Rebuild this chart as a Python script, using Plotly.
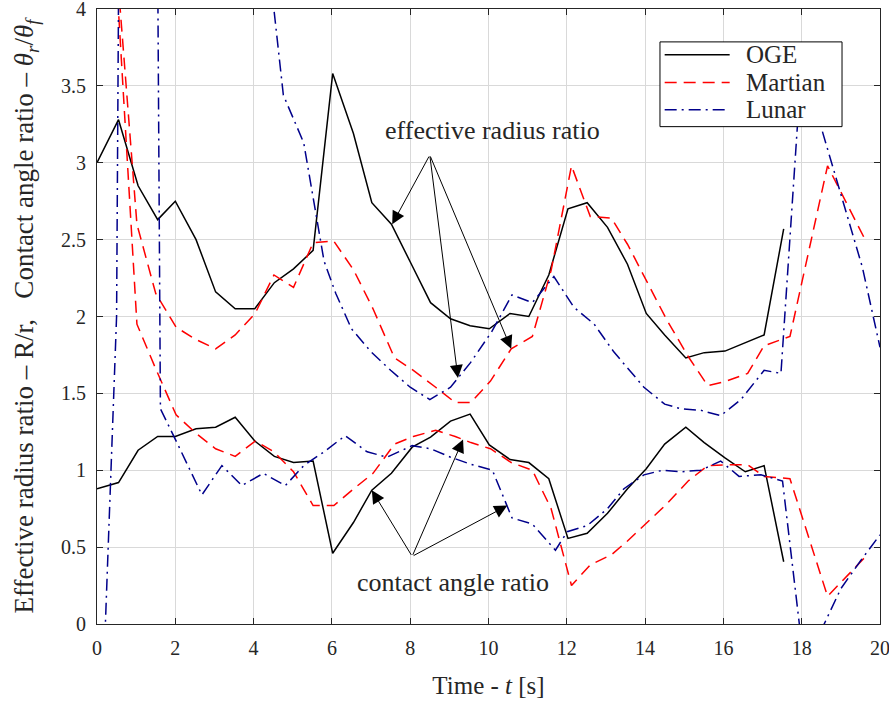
import plotly.graph_objects as go

# ---------------- data ----------------
oge_t = [0, 0.55, 1.05, 1.55, 2.0, 2.53, 3.03, 3.53, 4.03, 4.53, 5.02, 5.52, 6.02, 6.55, 7.02, 7.52,
         8.05, 8.52, 9.03, 9.53, 10.02, 10.55, 11.03, 11.54, 12.03, 12.52, 13.04, 13.55, 14.03, 14.5,
         15.04, 15.51, 16.04, 16.56, 17.04, 17.54]
oge_radius = [3.0, 3.28, 2.85, 2.63, 2.75, 2.5, 2.16, 2.05, 2.05, 2.22, 2.31, 2.43, 3.58, 3.19, 2.74, 2.6,
              2.33, 2.09, 1.985, 1.94, 1.92, 2.02, 2.0, 2.27, 2.7, 2.74, 2.58, 2.34, 2.02, 1.88,
              1.73, 1.765, 1.775, 1.83, 1.88, 2.57]
oge_contact = [0.88, 0.92, 1.13, 1.22, 1.22, 1.27, 1.28, 1.345, 1.19, 1.09, 1.05, 1.06, 0.46, 0.66, 0.87, 0.98,
               1.15, 1.215, 1.32, 1.365, 1.165, 1.07, 1.05, 0.945, 0.557, 0.59, 0.72, 0.88, 1.01, 1.17,
               1.28, 1.18, 1.08, 0.99, 1.03, 0.405]

mars_t = [0.5, 1.02, 1.5, 2.02, 2.53, 3.03, 3.53, 4.04, 4.52, 5.02, 5.52, 6.05, 6.56, 7.05, 7.6, 8.08,
          8.65, 9.15, 9.55, 10.05, 10.58, 11.12, 11.6, 12.12, 12.6, 13.14, 13.55, 14.0, 14.55, 15.1,
          15.6, 16.08, 16.62, 17.04, 17.7, 18.66, 19.6]
mars_radius = [4.3, 2.6, 2.15, 1.93, 1.85, 1.79, 1.88, 2.02, 2.27, 2.19, 2.48, 2.49, 2.3, 2.05, 1.73, 1.65,
               1.54, 1.44, 1.44, 1.58, 1.79, 1.87, 2.3, 2.98, 2.65, 2.64, 2.47, 2.25, 1.98, 1.74,
               1.55, 1.58, 1.63, 1.81, 1.87, 2.98, 2.51]
mars_contact = [4.2, 1.95, 1.66, 1.36, 1.24, 1.14, 1.09, 1.19, 1.12, 0.99, 0.77, 0.77, 0.88, 0.98, 1.17, 1.22,
                1.26, 1.22, 1.18, 1.14, 1.05, 1.0, 0.75, 0.25, 0.385, 0.45, 0.54, 0.65, 0.78, 0.93,
                1.03, 1.035, 1.035, 0.96, 0.945, 0.18, 0.43]

luna_t_radius = [3.7, 4.25, 4.76, 5.28, 5.8, 6.1, 6.5, 7.0, 7.5, 8.0, 8.5, 9.03, 9.54, 10.08, 10.6, 11.12,
                 11.67, 12.18, 12.7, 13.2, 13.97, 14.5, 14.91, 15.42, 15.93, 16.45, 17.04, 17.47, 18.0,
                 19.0, 19.55, 20.0]
luna_radius = [6.0, 4.62, 3.44, 3.13, 2.36, 2.15, 1.92, 1.77, 1.65, 1.54, 1.46, 1.54, 1.7, 1.9, 2.14, 2.09,
               2.26, 2.06, 1.95, 1.77, 1.54, 1.43, 1.40, 1.39, 1.355, 1.46, 1.65, 1.63, 3.66,
               2.8, 2.32, 1.8]
luna_t_contact = [0.0, 0.5, 1.05, 1.62, 2.04, 2.68, 3.19, 3.7, 4.25, 4.81, 5.28, 5.8, 6.34, 6.9, 7.41, 8.05,
                  8.52, 9.03, 9.54, 10.1, 10.6, 11.12, 11.71, 12.01, 12.52, 13.04, 13.46, 13.97, 14.44,
                  14.91, 15.42, 15.93, 16.4, 16.96, 17.51, 18.0, 18.5, 19.0, 19.5, 20.0]
luna_contact = [-1.5, 2.0, 25, 1.40, 1.18, 0.84, 1.03, 0.90, 0.98, 0.90, 1.03, 1.12, 1.225, 1.12, 1.085, 1.16,
                1.14, 1.085, 1.04, 1.0, 0.69, 0.65, 0.48, 0.60, 0.64, 0.75, 0.88, 0.97, 1.0,
                0.99, 1.0, 1.06, 0.96, 0.97, 0.93, -0.13, -0.04, 0.23, 0.41, 0.58]

x_ticks = [0, 2, 4, 6, 8, 10, 12, 14, 16, 18, 20]
y_ticks = [0, 0.5, 1, 1.5, 2, 2.5, 3, 3.5, 4]
y_tick_text = ["0", "0.5", "1", "1.5", "2", "2.5", "3", "3.5", "4"]

series_names = ["OGE", "Martian", "Lunar"]
series_colors = ["#000000", "#ff0000", "#00008b"]
series_dash = ["solid", "12px,7px", "12px,5px,2px,5px"]

# ---------------- figure ----------------
FONT = "Liberation Serif, Times New Roman, serif"
TXT = "#262626"

fig = go.Figure()
curves = [
    (oge_t, oge_radius, oge_t, oge_contact),
    (mars_t, mars_radius, mars_t, mars_contact),
    (luna_t_radius, luna_radius, luna_t_contact, luna_contact),
]
for i, (tr, r, tc, c) in enumerate(curves):
    line = dict(color=series_colors[i], width=1.5, dash=series_dash[i])
    fig.add_trace(go.Scatter(x=tr, y=r, mode="lines", line=line, name=series_names[i],
                             legendgroup=series_names[i], showlegend=False))
    fig.add_trace(go.Scatter(x=tc, y=c, mode="lines", line=line, name=series_names[i],
                             legendgroup=series_names[i], showlegend=False))

# annotation arrows
radius_apex = (8.5, 3.05)
radius_tips = [(7.54, 2.6), (9.22, 1.60), (10.58, 1.79)]
contact_apex = (8.05, 0.44)
contact_tips = [(7.02, 0.87), (9.35, 1.2), (10.48, 0.77)]

for apex, tips in [(radius_apex, radius_tips), (contact_apex, contact_tips)]:
    for tx, ty in tips:
        fig.add_annotation(x=tx, y=ty, ax=apex[0], ay=apex[1], axref="x", ayref="y",
                           xref="x", yref="y", text="", showarrow=True,
                           arrowhead=2, arrowsize=2.6, arrowwidth=1, arrowcolor="#000000",
                           standoff=0)

fig.add_annotation(x=10.1, y=3.21, xref="x", yref="y", text="effective radius ratio",
                   showarrow=False, font=dict(family=FONT, size=26, color=TXT),
                   xanchor="center", yanchor="middle")
fig.add_annotation(x=9.1, y=0.27, xref="x", yref="y", text="contact angle ratio",
                   showarrow=False, font=dict(family=FONT, size=26, color=TXT),
                   xanchor="center", yanchor="middle")

# legend (drawn as a boxed key, top-right)
leg_x0, leg_x1 = 0.719, 0.9515
leg_y0, leg_y1 = 0.8087, 0.9465
leg_rows = [0.9255, 0.8805, 0.836]
leg_line_x = (0.725, 0.808)
leg_text_x = 0.826
fig.add_shape(type="rect", xref="paper", yref="paper", x0=leg_x0, x1=leg_x1, y0=leg_y0, y1=leg_y1,
              fillcolor="white", line=dict(color="#000000", width=1), layer="above")
for i, name in enumerate(series_names):
    fig.add_shape(type="line", xref="paper", yref="paper", x0=leg_line_x[0], x1=leg_line_x[1],
                  y0=leg_rows[i], y1=leg_rows[i], layer="above",
                  line=dict(color=series_colors[i], width=1.5, dash=series_dash[i]))
    fig.add_annotation(x=leg_text_x, y=leg_rows[i], xref="paper", yref="paper", text=name,
                       showarrow=False, xanchor="left", yanchor="middle",
                       font=dict(family=FONT, size=25, color=TXT))

axis_common = dict(
    showline=True, linecolor=TXT, linewidth=1, mirror="ticks",
    ticks="inside", ticklen=6, tickcolor=TXT, tickwidth=1,
    showgrid=True, gridcolor="#d9d9d9", gridwidth=1, zeroline=False,
    tickfont=dict(family=FONT, size=20, color=TXT),
    automargin=False, ticklabeloverflow="allow",
)

fig.update_xaxes(range=[0, 20], tickvals=x_ticks, ticktext=[str(v) for v in x_ticks],
                 title=dict(text="Time - <i>t</i> [s]", font=dict(family=FONT, size=25, color=TXT),
                            standoff=18),
                 ticklabelstandoff=6, **axis_common)
fig.update_yaxes(range=[0, 4], tickvals=y_ticks, ticktext=y_tick_text,
                 title=dict(text="Effective radius ratio – R/r,   Contact angle ratio – <i>θ<sub>r</sub></i>/<i>θ<sub>f</sub></i>",
                            font=dict(family=FONT, size=27, color=TXT), standoff=19),
                 ticklabelstandoff=6, **axis_common)

fig.update_layout(
    width=889, height=707,
    margin=dict(l=97, r=9, t=9, b=83, autoexpand=False),
    paper_bgcolor="white", plot_bgcolor="white",
    font=dict(family=FONT, color=TXT),
    showlegend=False,
)

fig.write_html("out.html", config={"displayModeBar": False},
               post_script="document.body.style.margin='0';document.body.style.padding='0';")
